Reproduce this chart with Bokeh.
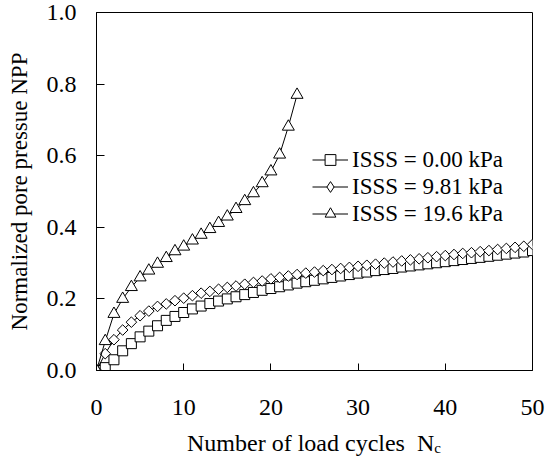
import math
from bokeh.plotting import figure
from bokeh.models import Legend, LegendItem, Range1d, FixedTicker, Div
from bokeh.layouts import column
from bokeh.embed import file_html
from bokeh.resources import INLINE

cycles_a = list(range(0, 51))
npp_000 = [0.0, 0.008, 0.03, 0.055, 0.075, 0.094, 0.11, 0.125, 0.14, 0.151,
           0.162, 0.172, 0.18, 0.187, 0.194, 0.2, 0.206, 0.212, 0.218, 0.224,
           0.229, 0.234, 0.239, 0.244, 0.248, 0.252, 0.256, 0.26, 0.264, 0.268,
           0.272, 0.275, 0.279, 0.282, 0.285, 0.289, 0.292, 0.295, 0.298, 0.301,
           0.304, 0.307, 0.31, 0.313, 0.316, 0.319, 0.322, 0.325, 0.328, 0.331, 0.335]

cycles_b = list(range(0, 51))
npp_981 = [0.0, 0.047, 0.086, 0.113, 0.135, 0.153, 0.166, 0.179, 0.186, 0.195,
           0.202, 0.209, 0.216, 0.221, 0.227, 0.232, 0.236, 0.241, 0.246, 0.25,
           0.256, 0.26, 0.264, 0.268, 0.272, 0.275, 0.279, 0.282, 0.285, 0.288,
           0.291, 0.294, 0.297, 0.3, 0.303, 0.306, 0.309, 0.312, 0.315, 0.318,
           0.321, 0.324, 0.327, 0.329, 0.332, 0.335, 0.338, 0.341, 0.344, 0.347, 0.352]

cycles_c = list(range(0, 24))
npp_196 = [0.0, 0.082, 0.158, 0.2, 0.233, 0.26, 0.279, 0.298, 0.314, 0.333,
           0.346, 0.363, 0.379, 0.395, 0.412, 0.43, 0.451, 0.473, 0.495, 0.523,
           0.556, 0.603, 0.681, 0.77]

labels = ["ISSS = 0.00 kPa", "ISSS = 9.81 kPa", "ISSS = 19.6 kPa"]
x_ticks = [0, 10, 20, 30, 40, 50]
y_ticks = [0.0, 0.2, 0.4, 0.6, 0.8, 1.0]
x_title = "Number of load cycles"
x_symbol = "N"
x_subscript = "c"
y_title = "Normalized pore pressue NPP"

FONT = "Liberation Serif"

p = figure(width=546, height=428, output_backend="svg", toolbar_location=None,
           x_range=Range1d(0, 50), y_range=Range1d(0, 1.0),
           min_border_left=96, min_border_right=14, min_border_top=12, min_border_bottom=58)
p.background_fill_color = "white"
p.border_fill_color = "white"
p.outline_line_color = "black"
p.outline_line_width = 1
p.grid.visible = False

for ax in (p.xaxis[0], p.yaxis[0]):
    ax.axis_line_color = "black"
    ax.major_tick_line_color = "black"
    ax.major_tick_out = 0
    ax.minor_tick_line_color = None
    ax.major_label_text_font = FONT
    ax.major_label_text_font_size = "24px"
    ax.major_label_text_color = "black"
    ax.axis_label_text_font = FONT
    ax.axis_label_text_font_style = "normal"
    ax.axis_label_text_color = "black"

p.yaxis[0].axis_label_text_font_size = "23px"
p.xaxis[0].ticker = FixedTicker(ticks=x_ticks)
p.yaxis[0].ticker = FixedTicker(ticks=y_ticks)
p.xaxis[0].major_tick_in = 7
p.yaxis[0].major_tick_in = 8
p.xaxis[0].major_label_standoff = 29
p.yaxis[0].major_label_standoff = 20
p.yaxis[0].major_label_overrides = {t: f"{t:.1f}" for t in y_ticks}
p.yaxis[0].axis_label = y_title
p.yaxis[0].axis_label_standoff = 12

r1l = p.line(cycles_a, npp_000, line_color="black", line_width=1)
r1m = p.scatter(cycles_a, npp_000, marker="square", size=10, fill_color="white",
                line_color="black", line_width=1)
r2l = p.line(cycles_b, npp_981, line_color="black", line_width=1)
r2m = p.scatter(cycles_b, npp_981, marker="square", size=7.5, angle=math.pi / 4,
                fill_color="white", line_color="black", line_width=1)
# legend-only diamond glyph, its single point lies outside the visible ranges
r2k = p.scatter(x=[-100], y=[-100], marker="diamond", size=13, fill_color="white",
                line_color="black", line_width=1)
r3l = p.line(cycles_c, npp_196, line_color="black", line_width=1)
r3m = p.scatter(cycles_c, npp_196, marker="triangle", size=12, fill_color="white",
                line_color="black", line_width=1)

legend = Legend(items=[
    LegendItem(label=labels[0], renderers=[r1l, r1m]),
    LegendItem(label=labels[1], renderers=[r2l, r2k]),
    LegendItem(label=labels[2], renderers=[r3l, r3m]),
], location=(216, 143))
legend.border_line_color = None
legend.background_fill_alpha = 0
legend.padding = 0
legend.margin = 0
legend.spacing = 0
legend.glyph_width = 36
legend.glyph_height = 27
legend.label_height = 27
legend.label_standoff = 4
legend.label_text_font = FONT
legend.label_text_font_size = "23px"
legend.label_text_color = "black"
p.add_layout(legend)

html = (f'<div style="margin-left:96px;width:436px;text-align:center;'
        f'font-family:\'{FONT}\';font-size:24px;line-height:24px;color:black;padding-top:3px;'
        f'white-space:pre">{x_title}  {x_symbol}'
        f'<span style="font-size:15px;position:relative;top:2px">{x_subscript}</span></div>')
xlabel = Div(text=html, width=546, height=33, margin=(0, 0, 0, 0))

layout = column(p, xlabel, spacing=0)
open("out.html", "w").write(file_html(layout, INLINE))
